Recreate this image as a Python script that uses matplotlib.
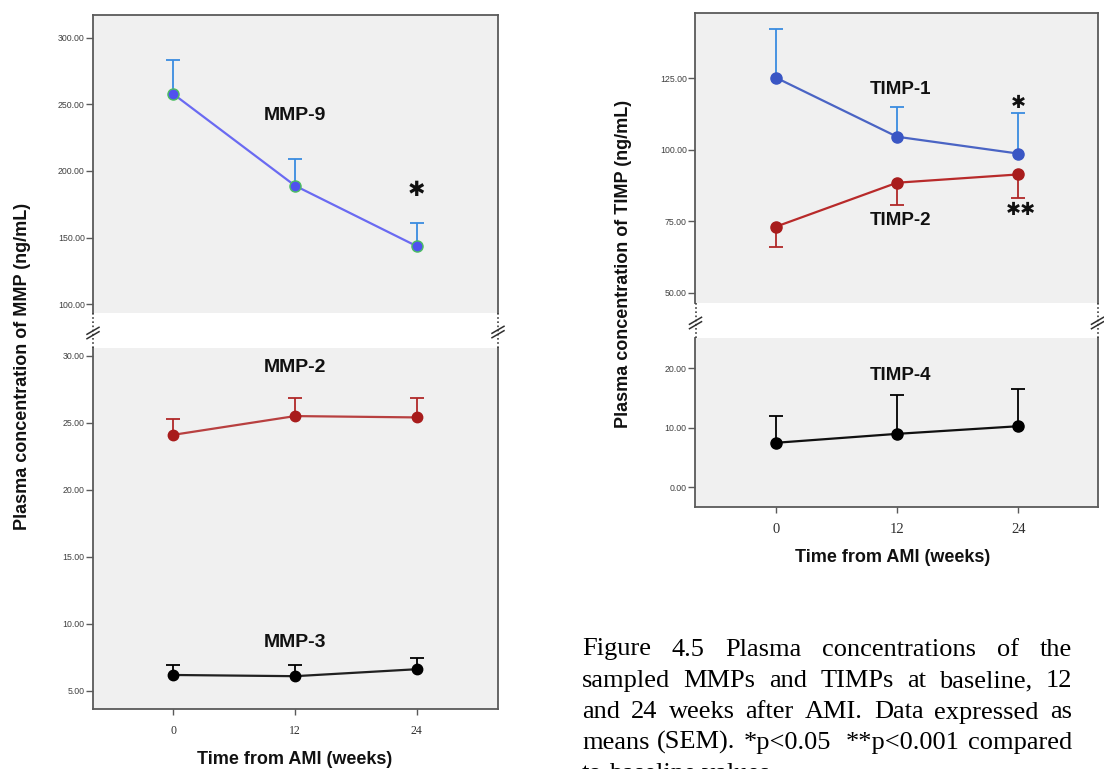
import matplotlib
matplotlib.use('Agg')
import matplotlib.pyplot as plt
from matplotlib.lines import Line2D
from matplotlib.transforms import IdentityTransform

# ---------------- data ----------------
weeks = [0, 12, 24]
week_labels = ['0', '12', '24']

mmp9_mean = [257.8, 189.0, 143.6]
mmp9_sem = [25.7, 20.3, 17.7]
mmp2_mean = [24.1, 25.5, 25.4]
mmp2_sem = [1.18, 1.38, 1.47]
mmp3_mean = [6.19, 6.10, 6.62]
mmp3_sem = [0.77, 0.86, 0.82]

timp1_mean = [125.3, 104.6, 98.7]
timp1_sem = [17.1, 10.5, 14.2]
timp2_mean = [73.1, 88.5, 91.4]
timp2_sem = [7.1, 7.9, 8.3]
timp4_mean = [7.47, 8.97, 10.25]
timp4_sem = [4.43, 6.48, 6.25]

mmp_upper_ticks = [100, 150, 200, 250, 300]
mmp_lower_ticks = [5, 10, 15, 20, 25, 30]
timp_upper_ticks = [50, 75, 100, 125]
timp_lower_ticks = [0, 10, 20]

caption_lines = [
    "Figure 4.5 Plasma concentrations of the",
    "sampled MMPs and TIMPs at baseline, 12",
    "and 24 weeks after AMI. Data expressed as",
    "means (SEM). *p<0.05  **p<0.001 compared",
    "to baseline values.",
]

# ---------------- layout ----------------
W, H = 1104, 769
fig = plt.figure(figsize=(W / 100, H / 100), dpi=100)
fig.patch.set_facecolor('white')

SANS = 'Liberation Sans'
SERIF = 'Liberation Serif'
GREY_BG = '#f0f0f0'
FRAME = '#5a5a5a'


def rect(x0, y0, x1, y1):
    return [x0 / W, 1 - y1 / H, (x1 - x0) / W, (y1 - y0) / H]


def style_axis(ax, upper, yticks, xlabsize, xpad):
    ax.set_facecolor(GREY_BG)
    for s in ax.spines.values():
        s.set_color(FRAME)
        s.set_linewidth(1.3)
    if upper:
        ax.spines['bottom'].set_visible(False)
        ax.set_xticks([])
    else:
        ax.spines['top'].set_visible(False)
        ax.set_xticks(weeks)
        ax.set_xticklabels(week_labels, family=SERIF, fontsize=xlabsize, color='#303030')
        ax.tick_params(axis='x', length=4, width=1, color=FRAME, pad=xpad)
    ax.set_yticks(yticks)
    ax.set_yticklabels(['%.2f' % v for v in yticks], family=SANS, fontsize=6.3, color='#404040')
    ax.tick_params(axis='y', length=5, width=1, color=FRAME, pad=1)


def series(ax, y, sem, line_c, face_c, edge_c, err_c, down=False, ms=7.5):
    ends = [m - s for m, s in zip(y, sem)] if down else [m + s for m, s in zip(y, sem)]
    ax.vlines(weeks, y, ends, colors=err_c, lw=1.3, zorder=2)
    ax.plot(weeks, ends, linestyle='none', marker='_', ms=10.5, mew=1.3, color=err_c, zorder=2)
    ax.plot(weeks, y, '-', color=line_c, lw=1.6, zorder=3)
    ax.plot(weeks, y, 'o', ms=ms, mfc=face_c, mec=edge_c, mew=1.0, zorder=4)


def break_marks(x0, y_top, y_bot, y_mark):
    fig.add_artist(Line2D([x0 / W, x0 / W], [1 - y_top / H, 1 - y_bot / H],
                          color='#404040', lw=1.2, ls=(0, (1, 1.5))))
    for d in (-2.2, 2.2):
        fig.add_artist(Line2D([(x0 - 6) / W, (x0 + 6) / W],
                              [1 - (y_mark + d + 3.5) / H, 1 - (y_mark + d - 3.5) / H],
                              color='#303030', lw=1.1))


# ---------------- left chart: MMPs ----------------
axL1 = fig.add_axes(rect(93, 15, 498, 313))
axL2 = fig.add_axes(rect(93, 347.7, 498, 709.3))
for ax in (axL1, axL2):
    ax.set_xlim(-7.9, 32.0)
axL1.set_ylim(93.5, 317)
axL2.set_ylim(3.63, 30.6)
style_axis(axL1, True, mmp_upper_ticks, 8.5, 7)
style_axis(axL2, False, mmp_lower_ticks, 8.5, 7)

series(axL1, mmp9_mean, mmp9_sem, '#6a6af2', '#5052ee', '#4cc060', '#3a8ce0', ms=8)
series(axL2, mmp2_mean, mmp2_sem, '#b84040', '#a81c1c', '#a81c1c', '#b02828')
series(axL2, mmp3_mean, mmp3_sem, '#202020', '#000000', '#000000', '#000000')

lab_kw = dict(family=SANS, weight='bold', fontsize=14, ha='center', va='center', color='#111111')
axL1.text(12, 241.5, 'MMP-9', **lab_kw)
axL2.text(12, 29.13, 'MMP-2', **lab_kw)
axL2.text(12, 8.6, 'MMP-3', **lab_kw)
axL1.text(24, 186, '\u2731', family='DejaVu Sans', fontsize=15, ha='center', va='center', color='#111111')

break_marks(93, 313, 347.7, 333)
break_marks(498, 313, 347.7, 332)

fig.text(23 / W, 1 - 366 / H, 'Plasma concentration of MMP (ng/mL)', rotation=90,
         family=SANS, weight='bold', fontsize=13, ha='center', va='center', color='#111111')
fig.text(295 / W, 1 - 760 / H, 'Time from AMI (weeks)', family=SANS, weight='bold',
         fontsize=13, ha='center', va='center', color='#111111')

# ---------------- right chart: TIMPs ----------------
axR1 = fig.add_axes(rect(695, 13.3, 1098, 303))
axR2 = fig.add_axes(rect(695, 337.7, 1098, 506.7))
for ax in (axR1, axR2):
    ax.set_xlim(-8.0, 31.9)
axR1.set_ylim(46.4, 147.8)
axR2.set_ylim(-3.25, 25.1)
style_axis(axR1, True, timp_upper_ticks, 10.5, 8)
style_axis(axR2, False, timp_lower_ticks, 10.5, 8)

series(axR1, timp1_mean, timp1_sem, '#4a64c4', '#3a56c4', '#3a56c4', '#3a8ce0', ms=8)
series(axR1, timp2_mean, timp2_sem, '#b82a2a', '#a81c1c', '#a81c1c', '#b02828', down=True, ms=8)
series(axR2, timp4_mean, timp4_sem, '#101010', '#000000', '#000000', '#000000', ms=8)

lab_kw2 = dict(family=SANS, weight='bold', fontsize=13.5, ha='center', va='center', color='#111111')
axR1.text(12.3, 121.3, 'TIMP-1', **lab_kw2)
axR1.text(12.3, 75.2, 'TIMP-2', **lab_kw2)
axR2.text(12.3, 18.68, 'TIMP-4', **lab_kw2)
axR1.text(24, 116.3, '\u2731', family='DejaVu Sans', fontsize=13, ha='center', va='center', color='#111111')
axR1.text(24.3, 79.0, '\u2731\u2731', family='DejaVu Sans', fontsize=13, ha='center', va='center', color='#111111')

break_marks(695.5, 303, 337.7, 323)
break_marks(1097.5, 303, 337.7, 323)

fig.text(623 / W, 1 - 264 / H, 'Plasma concentration of TIMP (ng/mL)', rotation=90,
         family=SANS, weight='bold', fontsize=13, ha='center', va='center', color='#111111')
fig.text(893 / W, 1 - 558 / H, 'Time from AMI (weeks)', family=SANS, weight='bold',
         fontsize=13, ha='center', va='center', color='#111111')

# ---------------- caption (justified) ----------------
renderer = fig.canvas.get_renderer()
cap_x0, cap_x1 = 582, 1072
baselines = [655.5, 687, 718.5, 749, 780.5]
cap_fs = 19
space_px = cap_fs * 0.25 * 100 / 72
for i, (line, yb) in enumerate(zip(caption_lines, baselines)):
    tokens = line.split(' ')
    words = [w for w in tokens if w]
    # extra gap weight for repeated spaces
    gap_weights = []
    cnt = 0
    for tk in tokens[1:]:
        cnt += 1
        if tk:
            gap_weights.append(cnt)
            cnt = 0
    texts = [fig.text(0, 0, w, family=SERIF, fontsize=cap_fs, color='black',
                      va='baseline', ha='left', transform=IdentityTransform()) for w in words]
    widths = [t.get_window_extent(renderer).width for t in texts]
    last = (i == len(caption_lines) - 1)
    if last or len(words) == 1:
        unit = space_px
    else:
        unit = (cap_x1 - cap_x0 - sum(widths)) / sum(gap_weights)
    x = cap_x0
    for j, (t, w) in enumerate(zip(texts, widths)):
        t.set_position((x, H - yb))
        if j < len(gap_weights):
            x += w + unit * gap_weights[j]

fig.savefig('out.png', dpi=100, facecolor='white')
